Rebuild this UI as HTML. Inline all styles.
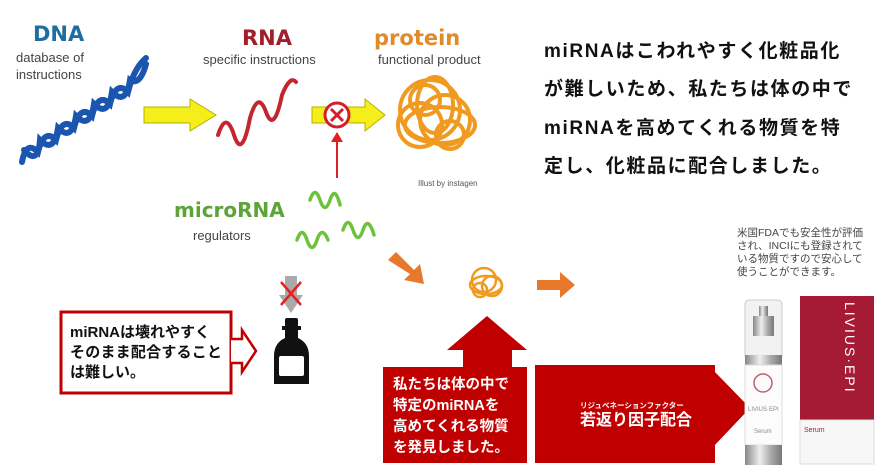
<!DOCTYPE html>
<html><head><meta charset="utf-8"><style>
html,body{margin:0;padding:0;background:#fff;}
svg{display:block;}
text{font-family:"Liberation Sans","Noto Sans CJK JP",sans-serif;}
.jp{font-family:"Noto Sans CJK JP","Liberation Sans",sans-serif;}
.hv{font-family:"DejaVu Sans","Liberation Sans",sans-serif;}
</style></head><body>
<svg width="884" height="473" viewBox="0 0 884 473" xmlns="http://www.w3.org/2000/svg">
<!-- DNA -->
<text class="hv" x="33" y="41" font-size="21" font-weight="bold" fill="#1e6fa0">DNA</text>
<text x="16" y="62" font-size="13" fill="#444">database of</text>
<text x="16" y="79" font-size="13" fill="#444">instructions</text>
<g fill="none" stroke="#1a56b0" stroke-width="6" stroke-linecap="round">
<path d="M22 162 Q26 140 38 152 Q44 128 56 140 Q62 116 74 128 Q80 104 92 116 Q98 92 110 104 Q116 80 128 92 Q134 68 146 58"/>
<path d="M24 150 Q38 166 40 140 Q54 154 58 128 Q72 142 76 116 Q90 130 94 104 Q108 118 112 92 Q126 106 130 80 Q140 86 146 64"/>
</g>
<!-- yellow arrow 1 -->
<path d="M144 107 H190 V99 L216 115 L190 131 V123 H144 Z" fill="#f4ee1a" stroke="#b8b000" stroke-width="1"/>
<!-- RNA -->
<text class="hv" x="242" y="45" font-size="21" font-weight="bold" fill="#a01f2a">RNA</text>
<text x="203" y="64" font-size="13" fill="#444">specific instructions</text>
<path d="M218 135 Q226 110 234 135 T250 118 Q258 90 266 112 T282 95 Q290 75 296 82" fill="none" stroke="#c3262e" stroke-width="4" stroke-linecap="round"/>
<!-- yellow arrow 2 with X -->
<path d="M312 107 H365 V99 L385 115 L365 131 V123 H312 Z" fill="#f4ee1a" stroke="#b8b000" stroke-width="1"/>
<circle cx="337" cy="115" r="12" fill="#fff" stroke="#d0202a" stroke-width="3"/>
<path d="M331 109 L343 121 M343 109 L331 121" stroke="#d0202a" stroke-width="3"/>
<path d="M337 178 V138" stroke="#e02020" stroke-width="2"/>
<path d="M331 142 L337 132 L343 142 Z" fill="#e02020"/>
<!-- protein -->
<text class="hv" x="374" y="45" font-size="21" font-weight="bold" fill="#e08a2a">protein</text>
<text x="378" y="64" font-size="13" fill="#444">functional product</text>
<g fill="none" stroke="#f09a20" stroke-width="4">
<circle cx="430" cy="110" r="30"/><circle cx="445" cy="120" r="25"/><circle cx="420" cy="125" r="22"/>
<ellipse cx="435" cy="105" rx="18" ry="28"/><ellipse cx="440" cy="125" rx="35" ry="18"/><circle cx="425" cy="100" r="15"/><circle cx="450" cy="135" r="14"/>
</g>
<text x="418" y="186" font-size="8" fill="#555">Illust by instagen</text>
<!-- microRNA -->
<text class="hv" x="174" y="217" font-size="20" font-weight="bold" fill="#5ea33a">microRNA</text>
<text x="193" y="240" font-size="13" fill="#444">regulators</text>
<g fill="none" stroke="#6cc23a" stroke-width="3.5" stroke-linecap="round">
<path d="M310 200 Q315 185 320 200 T330 200 T340 205"/>
<path d="M297 240 Q302 225 307 240 T317 240 T328 240"/>
<path d="M343 230 Q348 215 353 230 T363 230 T374 235"/>
</g>
<!-- right text -->
<g class="jp" font-size="19" font-weight="bold" fill="#111" letter-spacing="1.6">
<text x="544" y="57">miRNAはこわれやすく化粧品化</text>
<text x="544" y="95">が難しいため、私たちは体の中で</text>
<text x="544" y="134">miRNAを高めてくれる物質を特</text>
<text x="544" y="172">定し、化粧品に配合しました。</text>
</g>
<!-- orange arrows -->
<path d="M388 260 L396 252 L414 270 L420 264 L424 284 L404 280 L410 274 Z" fill="#e8782c"/>
<path d="M537 280 H560 V272 L575 285 L560 298 V290 H537 Z" fill="#e8782c"/>
<g fill="none" stroke="#f09a20" stroke-width="2.5">
<circle cx="484" cy="280" r="12"/><circle cx="492" cy="286" r="10"/><ellipse cx="486" cy="285" rx="16" ry="9"/><circle cx="480" cy="290" r="7"/>
</g>
<!-- left box -->
<rect x="61" y="312" width="170" height="81" fill="#fff" stroke="#c00000" stroke-width="3"/>
<path d="M231 330 V339 H242 V330 L256 351 L242 372 V363 H231" fill="#fff" stroke="#c00000" stroke-width="2.5"/>
<g class="jp" font-size="15" font-weight="bold" fill="#111">
<text x="70" y="337">miRNAは壊れやすく</text>
<text x="70" y="357" textLength="152">そのまま配合すること</text>
<text x="70" y="377">は難しい。</text>
</g>
<!-- gray arrow with X -->
<path d="M285 276 H297 V295 H303 L291 313 L279 295 H285 Z" fill="#aaa"/>
<path d="M281 282 L301 305 M301 282 L281 305" stroke="#e82020" stroke-width="2.5"/>
<!-- bottle -->
<rect x="285" y="318" width="13" height="9" rx="2" fill="#111"/>
<rect x="282" y="326" width="19" height="4" fill="#111"/>
<path d="M285 330 H298 V338 Q309 343 309 356 V384 H274 V356 Q274 343 285 338 Z" fill="#111"/>
<rect x="279" y="356" width="25" height="20" rx="2" fill="#fff"/>
<!-- red up arrow box -->
<path d="M447 350 L487 316 L527 350 Z" fill="#c00000"/>
<rect x="463" y="349" width="49" height="20" fill="#c00000"/>
<rect x="383" y="367" width="144" height="96" fill="#c00000"/>
<g class="jp" font-size="14.5" font-weight="bold" fill="#fff">
<text x="393" y="389">私たちは体の中で</text>
<text x="393" y="410">特定のmiRNAを</text>
<text x="393" y="431">高めてくれる物質</text>
<text x="393" y="452">を発見しました。</text>
</g>
<!-- red right arrow box -->
<rect x="535" y="365" width="180" height="98" fill="#c00000"/>
<path d="M713 370 L750 408 L713 447 Z" fill="#c00000"/>
<text class="jp" x="580" y="408" font-size="7.5" font-weight="bold" fill="#fff">リジュベネーションファクター</text>
<text class="jp" x="580" y="425" font-size="16" font-weight="bold" fill="#fff">若返り因子配合</text>
<!-- small text -->
<g class="jp" font-size="10.5" fill="#444">
<text x="737" y="236">米国FDAでも安全性が評価</text>
<text x="737" y="249">され、INCIにも登録されて</text>
<text x="737" y="262">いる物質ですので安心して</text>
<text x="737" y="275">使うことができます。</text>
</g>
<!-- products -->
<defs><linearGradient id="metal" x1="0" x2="1"><stop offset="0" stop-color="#888"/><stop offset=".4" stop-color="#eee"/><stop offset=".7" stop-color="#aaa"/><stop offset="1" stop-color="#777"/></linearGradient></defs>
<rect x="745" y="300" width="37" height="60" rx="4" fill="#f2f2f2" stroke="#ccc"/>
<rect x="759" y="306" width="9" height="10" fill="url(#metal)"/>
<rect x="753" y="316" width="21" height="20" fill="url(#metal)"/>
<rect x="745" y="355" width="37" height="10" fill="url(#metal)"/>
<rect x="745" y="365" width="37" height="80" fill="#fcfcfc" stroke="#ddd"/>
<circle cx="763" cy="383" r="9" fill="none" stroke="#c06070" stroke-width="1.5"/>
<text x="748" y="411" font-size="6" fill="#888">LIVIUS·EPI</text>
<text x="754" y="433" font-size="6" fill="#888">Serum</text>
<rect x="745" y="445" width="37" height="20" fill="url(#metal)"/>
<rect x="800" y="296" width="74" height="124" fill="#a51a34"/>
<rect x="800" y="420" width="74" height="44" fill="#f7f7f7" stroke="#ddd"/>
<text x="804" y="432" font-size="7" fill="#a51a34">Serum</text>
<text transform="translate(845,302) rotate(90)" font-size="14" fill="#fff" letter-spacing="2">LIVIUS·EPI</text>
</svg>
</body></html>
